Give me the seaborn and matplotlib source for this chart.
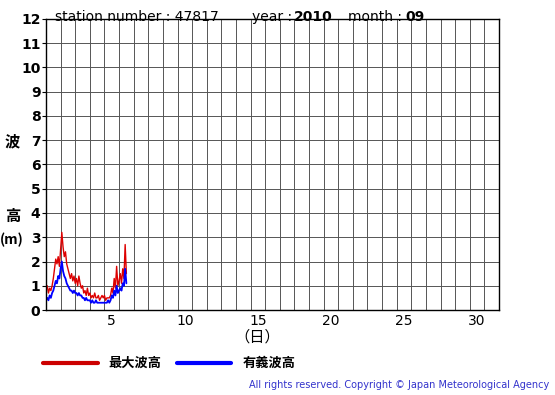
import numpy as np
import pandas as pd
import matplotlib
matplotlib.use('Agg')
import matplotlib.pyplot as plt
import seaborn as sns

# hours since 2010-09-01 00:00, every 2 hours
hours = list(range(0, 134, 2))
max_wave = [0.8, 1.0, 0.7, 0.9, 0.8, 1.0, 1.3, 1.7, 2.1, 1.9, 2.2, 1.8, 2.5, 3.2,
            2.6, 2.2, 2.4, 1.9, 1.7, 1.5, 1.3, 1.5, 1.2, 1.4, 1.1, 1.3, 1.0, 1.4,
            1.1, 0.9, 1.0, 0.7, 0.8, 0.6, 0.9, 0.6, 0.7, 0.5, 0.6, 0.5, 0.7, 0.5,
            0.5, 0.6, 0.4, 0.5, 0.6, 0.5, 0.6, 0.4, 0.5, 0.5, 0.5, 0.6, 0.9, 0.7,
            1.3, 0.9, 1.8, 1.0, 1.2, 1.5, 1.1, 1.7, 1.3, 2.7, 1.5]
sig_wave = [0.4, 0.5, 0.4, 0.6, 0.5, 0.7, 0.8, 1.0, 1.2, 1.1, 1.4, 1.3, 1.7, 2.0,
            1.6, 1.4, 1.3, 1.1, 1.0, 0.9, 0.8, 0.8, 0.7, 0.8, 0.7, 0.7, 0.6, 0.7,
            0.6, 0.6, 0.5, 0.5, 0.4, 0.5, 0.4, 0.4, 0.4, 0.3, 0.4, 0.3, 0.3, 0.4,
            0.3, 0.3, 0.3, 0.3, 0.3, 0.3, 0.3, 0.3, 0.3, 0.4, 0.3, 0.4, 0.6, 0.5,
            0.8, 0.6, 1.0, 0.7, 0.8, 0.9, 0.8, 1.1, 1.0, 1.7, 1.1]
day_ticks = [5, 10, 15, 20, 25, 30]
height_ticks = list(range(0, 13))

sns.set_theme(style='white')
plt.rcParams['font.family'] = ['DejaVu Sans', 'Noto Sans CJK JP']
plt.rcParams['text.color'] = 'black'
plt.rcParams['xtick.color'] = 'black'
plt.rcParams['ytick.color'] = 'black'
jp = ['Noto Sans CJK JP', 'DejaVu Sans']

df = pd.DataFrame({'hour': hours, 'max': max_wave, 'sig': sig_wave})
# day 1 00:00 sits at x = 0.5 (left edge of day-1 column)
df['day'] = 0.5 + df['hour'] / 24.0

fig = plt.figure(figsize=(5.55, 3.95), dpi=100)
ax = fig.add_axes([46 / 555, 1 - 310 / 395, 453 / 555, 291 / 395])

sns.lineplot(data=df, x='day', y='max', color='#dd0000', lw=1.0, ax=ax)
sns.lineplot(data=df, x='day', y='sig', color='#0000ff', lw=1.3, ax=ax)

ax.set_xlim(0.5, 31.5)
ax.set_ylim(0, 12)
ax.set_xticks(np.arange(1.5, 31.5, 1), minor=True)
ax.set_xticks(day_ticks)
ax.set_xticklabels([str(d) for d in day_ticks], fontsize=10)
ax.set_yticks(height_ticks)
ax.set_yticklabels([str(v) for v in height_ticks], fontsize=10, fontweight='bold')
ax.grid(True, which='minor', axis='x', color='#555555', lw=0.7)
ax.grid(True, which='major', axis='y', color='#555555', lw=0.7)
ax.tick_params(axis='x', which='both', length=0, pad=3)
ax.tick_params(axis='y', length=3, width=0.8, pad=1, left=True, direction='out', color='black')
for s in ax.spines.values():
    s.set_color('black')
    s.set_linewidth(1.0)
ax.set_xlabel('')
ax.set_ylabel('')

# axis labels
fig.text(257 / 555, 1 - 337 / 395, '（日）', family=jp, fontsize=11, ha='center', va='center')
fig.text(12 / 555, 1 - 141 / 395, '波', family=jp, fontsize=11, fontweight='bold', ha='center', va='center')
fig.text(13 / 555, 1 - 216 / 395, '高', family=jp, fontsize=11, fontweight='bold', ha='center', va='center')
fig.text(12 / 555, 1 - 240 / 395, '(m)', family=jp, fontsize=10, fontweight='bold', ha='center', va='center')

# header
fig.text(55 / 555, 1 - 17 / 395, 'station number : 47817', fontsize=10, ha='left', va='center')
fig.text(252 / 555, 1 - 17 / 395, 'year : ', fontsize=10, ha='left', va='center')
fig.text(294 / 555, 1 - 17 / 395, '2010', fontsize=10, fontweight='bold', ha='left', va='center')
fig.text(348 / 555, 1 - 17 / 395, 'month : ', fontsize=10, ha='left', va='center')
fig.text(405 / 555, 1 - 17 / 395, '09', fontsize=10, fontweight='bold', ha='left', va='center')

# legend
fig.add_artist(plt.Line2D([43 / 555, 98 / 555], [1 - 363 / 395] * 2, color='#cc0000', lw=3))
fig.text(108 / 555, 1 - 363 / 395, '最大波高', family=jp, fontsize=9.5, fontweight='bold', ha='left', va='center')
fig.add_artist(plt.Line2D([177 / 555, 231 / 555], [1 - 363 / 395] * 2, color='#0000ff', lw=3))
fig.text(243 / 555, 1 - 363 / 395, '有義波高', family=jp, fontsize=9.5, fontweight='bold', ha='left', va='center')

fig.text(549 / 555, 1 - 385 / 395, 'All rights reserved. Copyright © Japan Meteorological Agency',
         fontsize=7, color='#3333cc', ha='right', va='center')

fig.savefig('out.png', dpi=100)
